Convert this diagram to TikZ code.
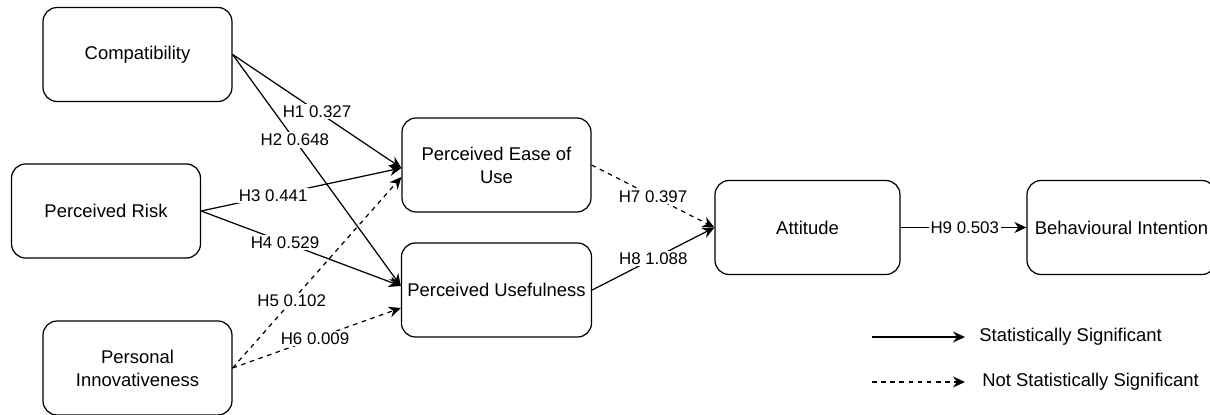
\documentclass[tikz,border=0pt]{standalone}
\usepackage{fontspec}
\setmainfont{Liberation Sans}
\usetikzlibrary{arrows.meta,positioning,calc}
\tikzset{construct/.style={draw, rounded corners=8pt, line width=0.7pt, minimum width=3.78cm, minimum height=1.88cm, align=center, font=\fontsize{10.5}{13}\selectfont},
hyp/.style={fill=white, inner sep=1pt, font=\fontsize{9.6}{11.5}\selectfont},
sig/.style={line width=0.7pt, -{Stealth[length=2.4mm, width=2.2mm]}},
notsig/.style={sig, dash pattern=on 2.6pt off 2.6pt}}

\begin{document}
\begin{tikzpicture}[x=0.02cm, y=-0.02cm]
\useasboundingbox (0,0) rectangle (1210,415);

\node[construct] (comp) at (137.5,54.5) {Compatibility};
\node[construct] (risk) at (106,211) {Perceived Risk};
\node[construct] (innov) at (137.5,368) {Personal\\Innovativeness};
\node[construct] (peou) at (496.5,165) {Perceived Ease of\\Use};
\node[construct] (pu) at (496.5,290) {Perceived Usefulness};
\node[construct, minimum width=3.7cm] (att) at (807.5,227.5) {Attitude};
\node[construct] (bi) at (1121.5,227.5) {Behavioural Intention};

% hypotheses
\draw[sig] (comp.east) -- ($(peou.west)+(0,3)$) node[hyp, pos=0.5] (h1) {H1 0.327};
\draw[sig] (comp.east) -- ($(pu.west)+(0,-4)$) node[hyp, pos=0.37] (h2) {H2 0.648};
\draw[sig] (risk.east) -- ($(peou.west)+(0,3)$) node[hyp, pos=0.36] (h3) {H3 0.441};
\draw[sig] (risk.east) -- ($(pu.west)+(0,-4)$) node[hyp, pos=0.42] (h4) {H4 0.529};
\draw[notsig] (innov.east) -- ($(peou.west)+(0,12)$) node[hyp, pos=0.35] (h5) {H5 0.102};
\draw[notsig] (innov.east) -- ($(pu.west)+(0,18)$) node[hyp, pos=0.49] (h6) {H6 0.009};
\draw[notsig] (peou.east) -- (att.west) node[hyp, pos=0.5] (h7) {H7 0.397};
\draw[sig] (pu.east) -- (att.west) node[hyp, pos=0.5] (h8) {H8 1.088};
\draw[sig] (att.east) -- (bi.west) node[hyp, pos=0.51] (h9) {H9 0.503};

% legend
\coordinate (s0) at (872,337);
\coordinate (s1) at (965,337);
\coordinate (n0) at (872,382);
\coordinate (n1) at (965,382);
\draw[sig] (s0) -- (s1);
\draw[notsig] (n0) -- (n1);
\node[anchor=west, inner sep=0pt, font=\fontsize{10.5}{13}\selectfont] (slabel) at (979,337) {Statistically Significant};
\node[anchor=west, inner sep=0pt, font=\fontsize{10.5}{13}\selectfont] (nlabel) at (982,382) {Not Statistically Significant};

\end{tikzpicture}
\end{document}
